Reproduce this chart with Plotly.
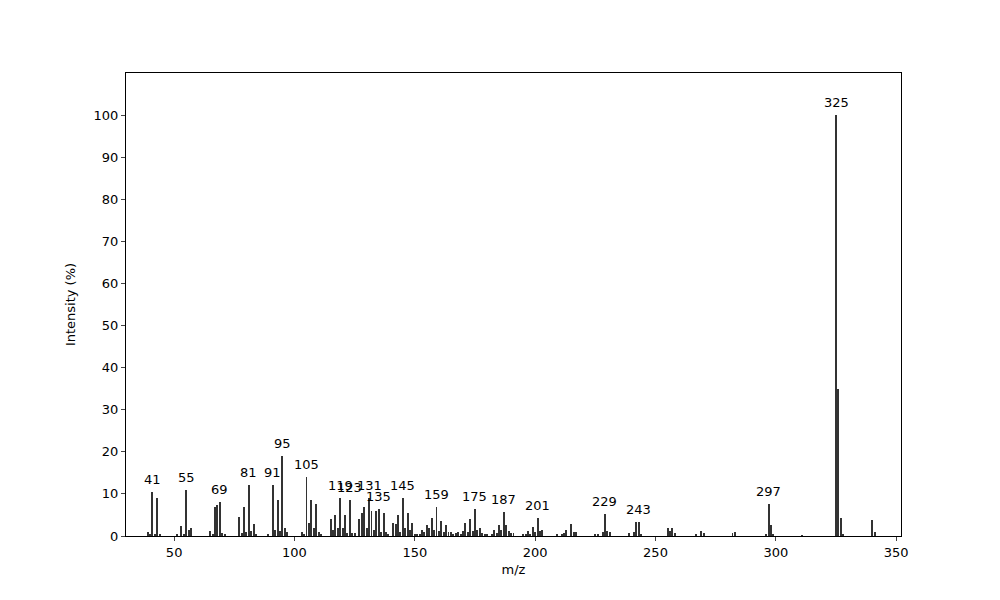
import plotly.graph_objects as go

# m/z and relative intensity (%)
mz = [39, 40, 41, 42, 43, 44, 51, 53, 54, 55, 56, 57, 65, 66, 67, 68, 69, 70, 71,
      77, 78, 79, 80, 81, 82, 83, 84, 89, 91, 92, 93, 94, 95, 96, 97,
      103, 104, 105, 106, 107, 108, 109, 110, 111, 115, 116, 117, 118, 119, 120,
      121, 122, 123, 124, 125, 127, 128, 129, 130, 131, 132, 133, 134, 135, 136,
      137, 138, 139, 141, 142, 143, 144, 145, 146, 147, 148, 149, 150, 151, 152,
      153, 154, 155, 156, 157, 158, 159, 160, 161, 162, 163, 164, 165, 166, 167,
      168, 169, 170, 171, 172, 173, 174, 175, 176, 177, 178, 179, 180, 182, 183,
      184, 185, 186, 187, 188, 189, 190, 191, 195, 196, 197, 198, 199, 200, 201,
      202, 203, 209, 211, 212, 213, 215, 216, 217, 225, 226, 228, 229, 230, 231,
      239, 241, 242, 243, 244, 255, 256, 257, 258, 267, 269, 270, 282, 283,
      296, 297, 298, 299, 311, 325, 326, 327, 328, 340, 341]
intensity = [1.0, 0.3, 10.5, 0.5, 9.0, 0.3, 0.4, 2.3, 0.5, 11.0, 1.5, 1.8, 1.3, 0.3, 7.0, 7.3, 8.0, 0.8, 0.4,
             4.5, 0.8, 7.0, 1.0, 12.0, 1.2, 2.8, 0.3, 0.3, 12.0, 1.5, 8.5, 1.2, 19.0, 2.0, 1.0,
             1.0, 0.5, 14.0, 3.0, 8.5, 2.0, 7.5, 1.0, 0.5, 4.0, 1.5, 5.0, 2.0, 9.0, 2.0,
             5.0, 0.8, 8.5, 0.8, 0.8, 4.0, 5.5, 7.0, 2.0, 9.0, 6.0, 1.5, 6.0, 6.3, 1.0,
             5.5, 1.0, 0.5, 3.0, 2.8, 5.0, 1.0, 9.0, 2.0, 5.5, 1.5, 3.0, 0.5, 0.3, 0.3,
             1.5, 1.0, 2.5, 2.0, 4.2, 1.5, 7.0, 1.2, 3.5, 1.0, 2.5, 1.0, 1.0, 0.3, 0.8,
             1.0, 0.5, 1.2, 3.0, 1.0, 4.0, 1.2, 6.3, 1.5, 2.0, 0.8, 0.3, 0.5, 0.3, 1.5,
             0.8, 2.5, 1.5, 5.8, 2.5, 1.2, 0.8, 0.8, 0.3, 0.3, 1.2, 0.5, 2.2, 1.0, 4.3,
             1.3, 1.5, 0.3, 0.5, 0.6, 1.5, 2.8, 1.0, 1.0, 0.3, 0.5, 1.0, 5.3, 1.2, 1.0,
             0.8, 1.0, 3.3, 3.3, 0.5, 1.8, 1.2, 2.0, 0.7, 0.4, 1.3, 0.6, 0.8, 1.0,
             0.5, 7.7, 2.5, 0.5, 0.2, 100.0, 35.0, 4.3, 0.5, 3.8, 1.0]
labeled = [41, 55, 69, 81, 91, 95, 105, 119, 123, 131, 135, 145, 159, 175, 187, 201, 229, 243, 297, 325]

font = "DejaVu Sans"
fig = go.Figure()
fig.add_trace(go.Bar(x=mz, y=intensity, width=0.4, marker_color="#333333",
                     marker_line_width=0, showlegend=False))

lookup = dict(zip(mz, intensity))
for m in labeled:
    fig.add_annotation(x=m, y=lookup[m], text=str(m), showarrow=False,
                       yanchor="bottom", yshift=3, font=dict(size=13, color="black", family=font))

axis = dict(showline=True, mirror=True, linecolor="black", linewidth=1, ticks="outside",
            ticklen=4, showgrid=False, zeroline=False,
            tickfont=dict(size=13, color="black", family=font))
fig.update_layout(
    width=1000, height=600, plot_bgcolor="white", paper_bgcolor="white",
    margin=dict(l=118, r=107, t=65, b=72), bargap=0,
    font=dict(family=font, size=13, color="black"),
    xaxis=dict(axis, range=[30, 352], tickvals=[50, 100, 150, 200, 250, 300, 350],
               title=dict(text="m/z", font=dict(size=13), standoff=6)),
    yaxis=dict(axis, range=[0, 110], tickvals=list(range(0, 101, 10)),
               title=dict(text="Intensity (%)", font=dict(size=13))),
)
fig.write_html("out.html")
